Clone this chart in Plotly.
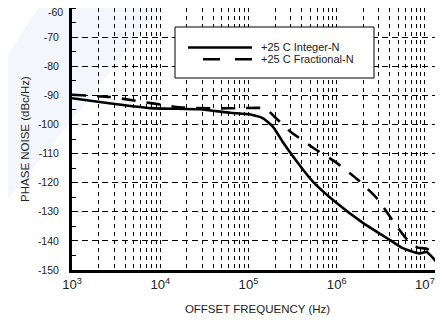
import plotly.graph_objects as go

# ---- data ----
freq_integer = [1e3, 2.07e3, 7.7e3, 2.8e4, 6.2e4, 1.05e5, 1.48e5, 1.9e5, 2.45e5,
                3.55e5, 5.4e5, 1.0e6, 2.0e6, 3.7e6, 5.6e6, 8.7e6, 1.05e7, 1.6e7]
pn_integer = [-91.0, -92.3, -94.4, -94.8, -96.0, -96.6, -98.0, -100.8, -106.0,
              -112.8, -119.7, -127.0, -133.9, -139.0, -142.5, -144.3, -143.8, -150.0]

freq_fractional = [1e3, 2.7e3, 4e3, 1.66e4, 3.9e4, 8.5e4, 1.54e5, 2.0e5, 2.95e5,
                   5.4e5, 1.0e6, 1.74e6, 2.9e6, 4.7e6, 6.3e6, 8.3e6, 1.07e7, 1.6e7]
pn_fractional = [-89.8, -90.6, -91.3, -94.1, -94.5, -94.4, -94.5, -97.5, -102.3,
                 -108.0, -113.2, -119.0, -125.6, -134.6, -139.6, -142.3, -142.8, -150.0]

series_names = ["+25 C Integer-N", "+25 C Fractional-N"]
y_ticks = [-150, -140, -130, -120, -110, -100, -90, -80, -70, -60]
y_tick_labels = ["-150", "-140", "-130", "-120", "-110", "-100", "-90", "-80", "-70", "-60"]
x_title = "OFFSET FREQUENCY (Hz)"
y_title = "PHASE NOISE (dBc/Hz)"

FONT = "Liberation Sans, Arial, Helvetica, sans-serif"
TXT = "#222"
OFF = 8  # page body margin in the browser
W, H = 443 - OFF, 320 - OFF
ML, MR, MT, MB = 72 - OFF, 0, 0, 320 - 270
PW, PH = W - ML - MR, H - MT - MB


def px(x):
    # page pixel x -> paper coordinate
    return (x - OFF - ML) / PW


def py(y):
    # page pixel y -> paper coordinate
    return 1 - (y - OFF - MT) / PH


fig = go.Figure()
fig.add_trace(go.Scatter(x=freq_integer, y=pn_integer, mode="lines",
                         name=series_names[0], showlegend=False,
                         line=dict(color="black", width=2.6, shape="spline", smoothing=0.5)))
fig.add_trace(go.Scatter(x=freq_fractional, y=pn_fractional, mode="lines",
                         name=series_names[1], showlegend=False,
                         line=dict(color="black", width=2.6, dash="14px,11px",
                                   shape="spline", smoothing=0.5)))

shapes = []
# faint watermark band behind everything
band = [(0, 67), (43, 0), (168, 0), (0, 210)]
path = "M " + " L ".join(f"{px(a):.4f},{py(b):.4f}" for a, b in band) + " Z"
shapes.append(dict(type="path", path=path, xref="paper", yref="paper", layer="below",
                   fillcolor="rgba(200,216,242,0.22)", line=dict(width=0)))

# legend box
shapes.append(dict(type="rect", xref="paper", yref="paper",
                   x0=px(175), x1=px(374), y0=py(78), y1=py(27),
                   fillcolor="white", line=dict(color="black", width=1), layer="above"))
shapes.append(dict(type="line", xref="paper", yref="paper",
                   x0=px(188), x1=px(252), y0=py(47.5), y1=py(47.5),
                   line=dict(color="black", width=2.6), layer="above"))
shapes.append(dict(type="line", xref="paper", yref="paper",
                   x0=px(203), x1=px(252), y0=py(59.3), y1=py(59.3),
                   line=dict(color="black", width=2.6, dash="17px,15px"), layer="above"))

annotations = [
    dict(xref="paper", yref="paper", x=px(259), y=py(47.5), text=series_names[0],
         showarrow=False, xanchor="left", yanchor="middle",
         font=dict(family=FONT, size=11, color=TXT)),
    dict(xref="paper", yref="paper", x=px(259), y=py(59.3), text=series_names[1],
         showarrow=False, xanchor="left", yanchor="middle",
         font=dict(family=FONT, size=11, color=TXT)),
    # top tick label sits just below the top edge (as in the reference)
    dict(xref="paper", yref="paper", x=px(63.5), y=py(12), text=y_tick_labels[-1],
         showarrow=False, xanchor="right", yanchor="middle", borderpad=0,
         font=dict(family=FONT, size=10.5, color=TXT)),
]

fig.update_layout(
    width=W, height=H,
    margin=dict(l=ML, r=MR, t=MT, b=MB, pad=0, autoexpand=False),
    paper_bgcolor="white", plot_bgcolor="rgba(0,0,0,0)",
    font=dict(family=FONT, size=10.5, color=TXT),
    shapes=shapes, annotations=annotations,
    showlegend=False,
)

fig.update_xaxes(
    type="log", range=[3, 7.205], dtick=1,
    exponentformat="power", showexponent="all",
    showline=True, linecolor="black", linewidth=3, mirror=True,
    showgrid=True, gridcolor="black", gridwidth=1.2, griddash="4px,4px",
    minor=dict(dtick="D1", showgrid=True, gridcolor="black", gridwidth=1.2,
               griddash="4px,4px", ticks=""),
    ticks="", ticklabelstandoff=1, automargin=False, ticklabeloverflow="allow",
    tickfont=dict(family=FONT, size=10.5, color=TXT),
    title=dict(text=x_title, standoff=14, font=dict(family=FONT, size=11.5, color=TXT)),
    zeroline=False,
)
fig.update_yaxes(
    range=[-150, -60], tickvals=y_ticks[:-1], ticktext=y_tick_labels[:-1],
    showline=True, linecolor="black", linewidth=3, mirror=False,
    showgrid=True, gridcolor="black", gridwidth=1.2, griddash="6px,4px",
    minor=dict(dtick=5, ticks="inside", ticklen=4, tickcolor="black", tickwidth=1.2,
               showgrid=False),
    ticks="", ticklabelstandoff=8, automargin=False, ticklabeloverflow="allow",
    tickfont=dict(family=FONT, size=10.5, color=TXT),
    title=dict(text=y_title, standoff=6, font=dict(family=FONT, size=11.5, color=TXT)),
    zeroline=False,
)

fig.write_html("out.html")
